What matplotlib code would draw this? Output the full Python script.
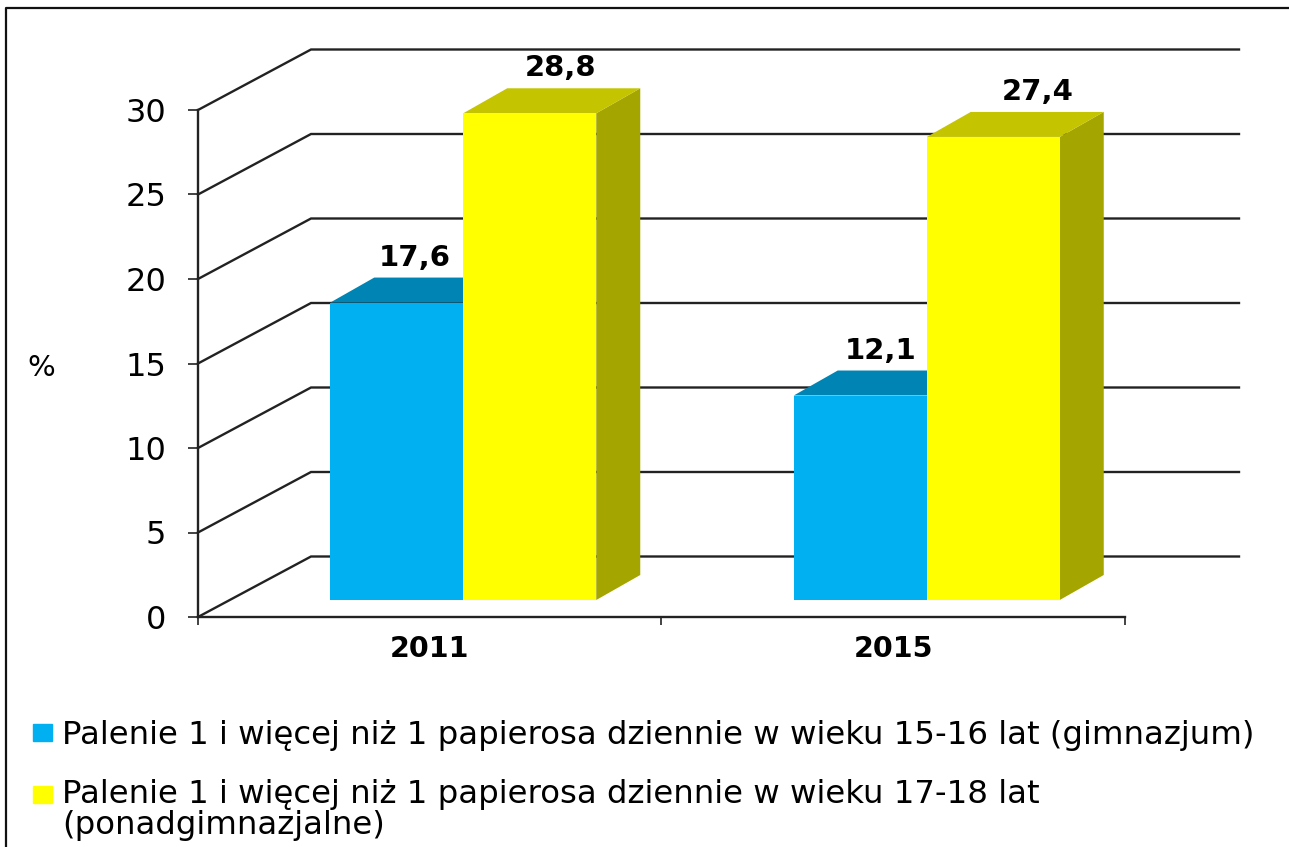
import matplotlib
matplotlib.use("Agg")
import matplotlib.pyplot as plt
from matplotlib.patches import Patch

plt.rcParams['font.family'] = ['DejaVu Sans']

# values
years = ['2011', '2015']
younger = [17.6, 12.1]
older = [28.8, 27.4]
y_ticks = [0, 5, 10, 15, 20, 25, 30]
younger_label = 'Palenie 1 i więcej niż 1 papierosa dziennie w wieku 15-16 lat (gimnazjum)'
older_label = 'Palenie 1 i więcej niż 1 papierosa dziennie w wieku 17-18 lat\n(ponadgimnazjalne)'

# plot stuff
W, H = 1289, 847
line_col = '#222222'
blue, blue_top = '#00b0f0', '#0084b4'
yellow, yellow_top, yellow_side = '#ffff00', '#c4c400', '#a5a500'

fig = plt.figure(figsize=(W / 100, H / 100), dpi=100)
ax = fig.add_axes([198 / W, 1 - 617 / H, (1125 - 198) / W, (617 - 110) / H])
ax.set_xlim(0, 2)
ax.set_ylim(0, 30)

px_x = 463.5       # pixels per category
px_y = 507 / 30    # pixels per percent

# back wall lines
wall_x, wall_y = 113 / px_x, 60.5 / px_y
wall_end = (1239 - 198) / px_x
for v in y_ticks:
    ax.plot([0, wall_x, wall_end], [v, v + wall_y, v + wall_y], color=line_col,
            lw=1.7, clip_on=False, zorder=1, solid_joinstyle='miter')

# bars
bar_w = 133 / px_x
depth_x, depth_y = 44 / px_x, 25 / px_y
base = 17 / px_y


def draw_bar(left, value, front, top, side=None):
    t = base + value
    r = left + bar_w
    if side is not None:
        ax.fill([r, r + depth_x, r + depth_x, r], [base, base + depth_y, t + depth_y, t],
                color=side, lw=0, clip_on=False, zorder=2)
    ax.fill([left, left + depth_x, r + depth_x, r], [t, t + depth_y, t + depth_y, t],
            color=top, lw=0, clip_on=False, zorder=2)
    ax.bar(left, value, bar_w, bottom=base, align='edge', color=front, clip_on=False, zorder=3)


label_dx = [[18, 31], [20, 44]]  # label shift from bar centre, in pixels
for i in range(len(years)):
    mid = i + 0.5 + 33.5 / px_x
    draw_bar(mid - bar_w, younger[i], blue, blue_top)
    draw_bar(mid, older[i], yellow, yellow_top, yellow_side)
    for j, (left, v) in enumerate([(mid - bar_w, younger[i]), (mid, older[i])]):
        ax.annotate(str(v).replace('.', ','), (left + bar_w / 2, base + v),
                    xytext=(label_dx[i][j] * 0.72, 45 * 0.72), textcoords='offset points',
                    ha='center', va='center', fontsize=21, fontweight='bold', color='black',
                    zorder=5, annotation_clip=False)

# axes
for s in ['top', 'right']:
    ax.spines[s].set_visible(False)
for s in ['left', 'bottom']:
    ax.spines[s].set_linewidth(1.7)
    ax.spines[s].set_color(line_col)
ax.spines['bottom'].set_zorder(1)
ax.set_yticks(y_ticks)
ax.set_xticks([0, 1, 2])
ax.set_xticklabels([])
ax.tick_params(axis='y', length=7, width=1.2, color=line_col, labelsize=23, pad=16)
ax.tick_params(axis='x', length=6, width=1.2, color=line_col)
for i, y in enumerate(years):
    ax.annotate(y, (i + 0.5, 0), xytext=(0, -32 * 0.72), textcoords='offset points',
                ha='center', va='center', fontsize=20.5, fontweight='bold', annotation_clip=False)
fig.text(41 / W, 1 - 368 / H, '%', ha='center', va='center', fontsize=21)

# frame
fig.add_artist(plt.Line2D([6 / W, 6 / W, 1], [0, 1 - 8 / H, 1 - 8 / H], color='#111111', lw=1.6))

# legend
handles = [Patch(color=blue), Patch(color=yellow)]
leg = fig.legend(handles, [younger_label, older_label], loc='upper left',
                 bbox_to_anchor=(33 / W, 1 - 720 / H), frameon=False, fontsize=23.3,
                 handlelength=0.59, handleheight=0.4, handletextpad=0.3, labelspacing=0.85,
                 borderpad=0, borderaxespad=0)
leg.get_texts()[1].set_linespacing(1.0)
# second marker sits on the first text line
second = leg.legend_handles[1]
second.set_y(second.get_y() + 11)

fig.savefig('out.png', dpi=100)
